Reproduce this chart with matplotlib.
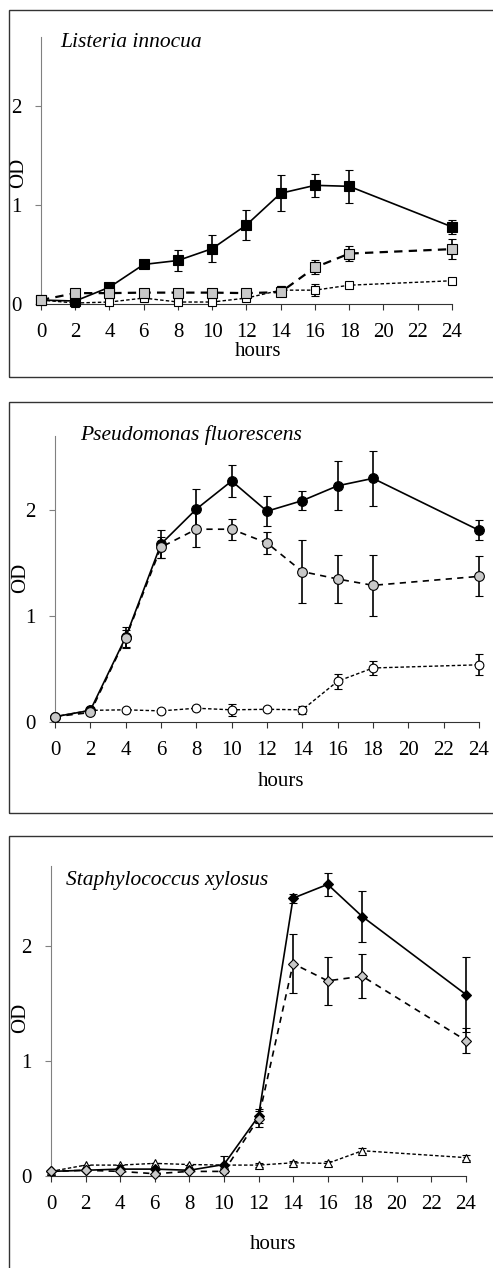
import matplotlib
matplotlib.use("Agg")
from matplotlib import pyplot as plt
from matplotlib.patches import Rectangle

plt.rcParams['font.family'] = ['Liberation Serif', 'DejaVu Serif']
plt.rcParams['lines.scale_dashes'] = False

W, H = 493, 1268

hours = [0, 2, 4, 6, 8, 10, 12, 14, 16, 18, 24]
xticks = list(range(0, 25, 2))
yticks = [0, 1, 2]

# Listeria innocua
li_a = [0.04, 0.03, 0.17, 0.40, 0.44, 0.56, 0.80, 1.12, 1.20, 1.19, 0.78]
li_a_err = [0, 0, 0, 0, 0.11, 0.14, 0.155, 0.18, 0.115, 0.165, 0.07]
li_b = [0.04, 0.11, 0.11, 0.115, 0.115, 0.115, 0.11, 0.12, 0.37, 0.51, 0.555]
li_b_err = [0, 0, 0, 0, 0, 0, 0, 0.03, 0.07, 0.08, 0.10]
li_c = [0.04, 0.01, 0.02, 0.06, 0.02, 0.02, 0.06, 0.14, 0.14, 0.19, 0.235]
li_c_err = [0, 0, 0, 0, 0, 0, 0, 0.04, 0.06, 0.02, 0.02]

# Pseudomonas fluorescens
ps_a = [0.05, 0.11, 0.80, 1.68, 2.01, 2.275, 1.99, 2.09, 2.23, 2.30, 1.81]
ps_a_err = [0, 0, 0.10, 0.13, 0.19, 0.15, 0.14, 0.09, 0.23, 0.26, 0.095]
ps_b = [0.05, 0.09, 0.79, 1.65, 1.82, 1.82, 1.69, 1.42, 1.35, 1.29, 1.375]
ps_b_err = [0, 0, 0.08, 0.10, 0.17, 0.10, 0.10, 0.30, 0.23, 0.29, 0.19]
ps_c = [0.05, 0.11, 0.115, 0.105, 0.13, 0.115, 0.12, 0.115, 0.385, 0.51, 0.54]
ps_c_err = [0, 0, 0.02, 0.02, 0.02, 0.055, 0.02, 0.04, 0.07, 0.065, 0.10]

# Staphylococcus xylosus
st_a = [0.04, 0.05, 0.06, 0.06, 0.05, 0.10, 0.52, 2.42, 2.54, 2.26, 1.58]
st_a_err = [0, 0, 0, 0, 0, 0.07, 0.06, 0.04, 0.10, 0.22, 0.33]
st_b = [0.04, 0.05, 0.04, 0.02, 0.04, 0.04, 0.50, 1.85, 1.70, 1.74, 1.18]
st_b_err = [0, 0, 0, 0, 0, 0, 0.07, 0.26, 0.21, 0.19, 0.11]
st_c = [0.04, 0.095, 0.095, 0.11, 0.10, 0.095, 0.095, 0.115, 0.11, 0.22, 0.16]
st_c_err = [0, 0, 0, 0, 0, 0, 0.02, 0.02, 0.02, 0.02, 0.02]

GRAY = '#c8c8c8'

# pixel layout: axes (left, right, top, y0), box (top, bottom), label spots
panels = [
    dict(title='Listeria innocua', ax=(41, 452, 37, 304), box=(10, 377),
         a=(li_a, li_a_err), b=(li_b, li_b_err), c=(li_c, li_c_err),
         mk=('s', 's', 's'), ms=(6.8, 6.8, 6.0), bdash=(6, 4.5), blw=1.6,
         title_xy=(0.046, 0.963), od=(-0.032, 0.49), hrs=(0.528, -0.142)),
    dict(title='Pseudomonas fluorescens', ax=(55, 479, 436, 722), box=(402, 813),
         a=(ps_a, ps_a_err), b=(ps_b, ps_b_err), c=(ps_c, ps_c_err),
         mk=('o', 'o', 'o'), ms=(7.0, 7.0, 6.3), bdash=(4.5, 3.8), blw=1.2,
         title_xy=(0.059, 0.986), od=(-0.059, 0.503), hrs=(0.533, -0.175)),
    dict(title='Staphylococcus xylosus', ax=(51, 466, 866, 1176), box=(836, 1290),
         a=(st_a, st_a_err), b=(st_b, st_b_err), c=(st_c, st_c_err),
         mk=('D', 'D', '^'), ms=(5.0, 5.0, 5.8), bdash=(4.5, 3.8), blw=1.2,
         title_xy=(0.036, 0.939), od=(-0.05, 0.51), hrs=(0.534, -0.19)),
]

fig = plt.figure(figsize=(W / 100, H / 100), dpi=100)

for p in panels:
    top, bot = p['box']
    fig.patches.append(Rectangle((9 / W, 1 - bot / H), 1.0, (bot - top) / H,
                                 transform=fig.transFigure, fill=False,
                                 edgecolor='#333333', linewidth=1.0))

    l, r, t, y0 = p['ax']
    ax = fig.add_axes([l / W, 1 - y0 / H, (r - l) / W, (y0 - t) / H])
    ax.patch.set_visible(False)

    common = dict(ecolor='black', elinewidth=1.2, capsize=2.6, capthick=1.2,
                  clip_on=False, markeredgecolor='black', markeredgewidth=0.8)
    vals, err = p['c']
    ax.errorbar(hours, vals, yerr=err, color='black', lw=1.0, dashes=(2.5, 1.6),
                marker=p['mk'][2], ms=p['ms'][2], mfc='white', zorder=4, **common)
    vals, err = p['a']
    ax.errorbar(hours, vals, yerr=err, color='black', lw=1.2, ls='-',
                marker=p['mk'][0], ms=p['ms'][0], mfc='black', zorder=5, **common)
    vals, err = p['b']
    ax.errorbar(hours, vals, yerr=err, color='black', lw=p['blw'], dashes=p['bdash'],
                marker=p['mk'][1], ms=p['ms'][1], mfc=GRAY, zorder=6, **common)

    ax.set_xlim(0, 24)
    ax.set_ylim(0, 2.7)
    ax.set_xticks(xticks)
    ax.set_yticks(yticks)
    ax.spines['top'].set_visible(False)
    ax.spines['right'].set_visible(False)
    ax.spines['left'].set_color('#808080')
    ax.spines['bottom'].set_color('#333333')
    ax.tick_params(axis='x', direction='out', length=4, width=0.8, pad=9.5,
                   labelsize=15, color='#333333')
    ax.tick_params(axis='y', direction='out', length=4, width=0.8, pad=10,
                   labelsize=15, color='#808080')

    ax.set_xlabel('hours', fontsize=15)
    ax.xaxis.set_label_coords(*p['hrs'])
    ax.set_ylabel('OD', fontsize=15)
    ax.yaxis.set_label_coords(*p['od'])
    ax.text(p['title_xy'][0], p['title_xy'][1], p['title'], transform=ax.transAxes,
            fontsize=15.5, style='italic', ha='left', va='baseline')

fig.savefig('out.png', dpi=100)
